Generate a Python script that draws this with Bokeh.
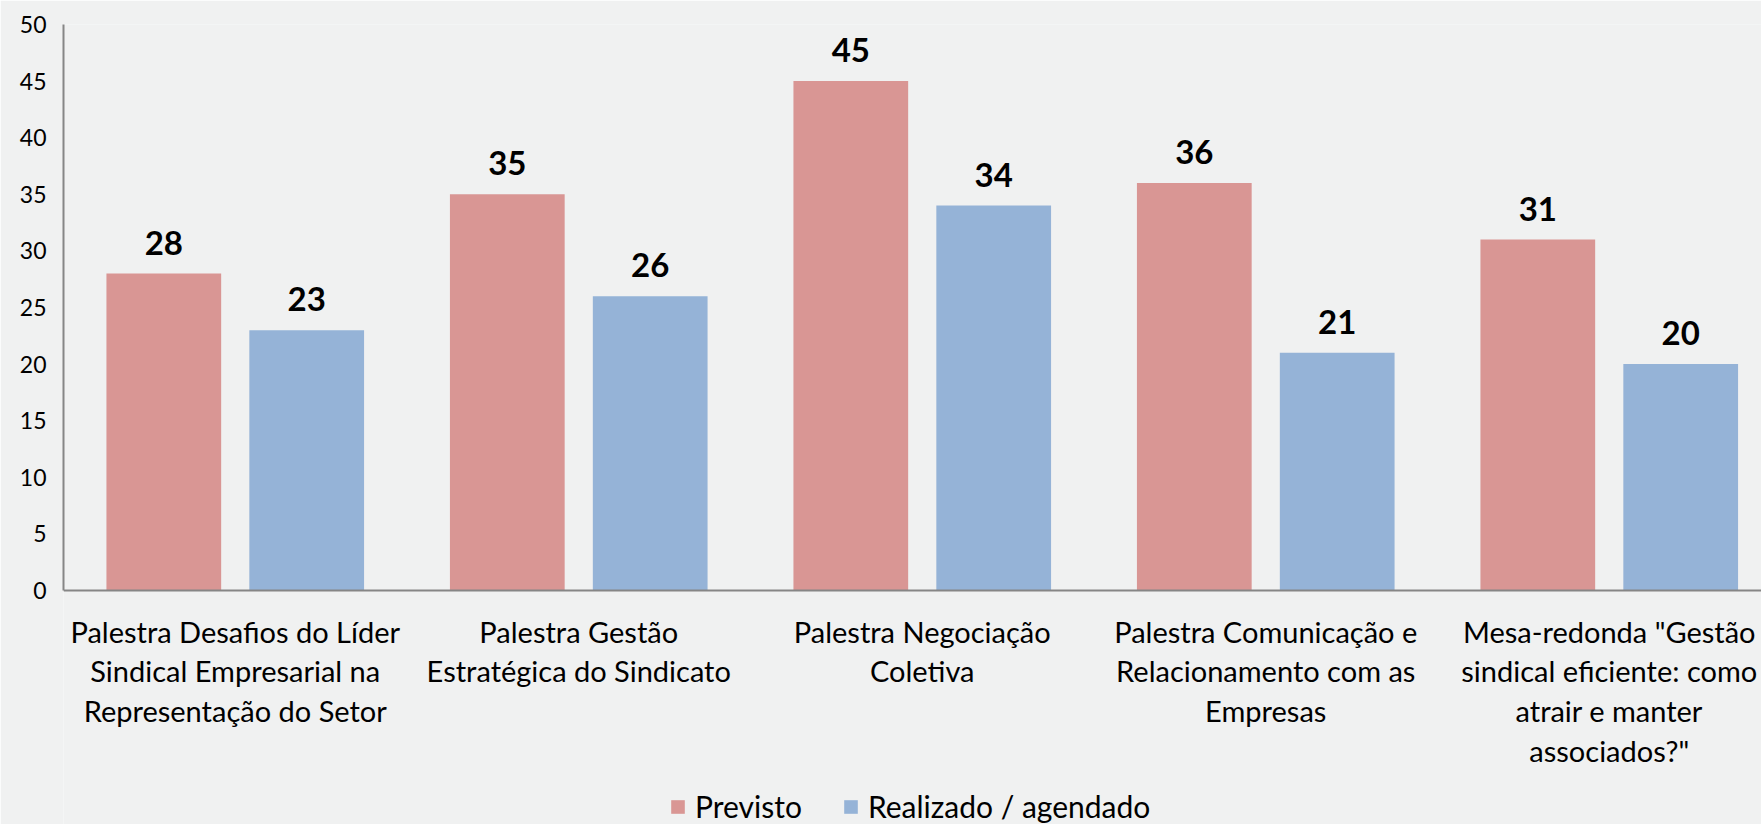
from bokeh.plotting import figure
from bokeh.models import Range1d, FixedTicker, ColumnDataSource, Legend, LegendItem, Span
from bokeh.transform import dodge
from bokeh.core.properties import value
from bokeh.embed import file_html
from bokeh.resources import INLINE

categories = [
    "Palestra Desafios do Líder\nSindical Empresarial na\nRepresentação do Setor",
    "Palestra Gestão\nEstratégica do Sindicato",
    "Palestra Negociação\nColetiva",
    "Palestra Comunicação e\nRelacionamento com as\nEmpresas",
    "Mesa-redonda \"Gestão\nsindical eficiente: como\natrair e manter\nassociados?\"",
]
previsto = [28, 35, 45, 36, 31]
realizado = [23, 26, 34, 21, 20]
y_ticks = [0, 5, 10, 15, 20, 25, 30, 35, 40, 45, 50]
series_names = ["Previsto", "Realizado / agendado"]
colors = ["#D99694", "#95B3D7"]

FONT = "Lato"
BG = "#f0f1f1"
AXIS = "#868686"

# layout constants (pixels)
FRAME_W, FRAME_H = 1698, 800      # frame extends below the value axis to hold labels and legend
PX_PER_50 = 566                   # pixel height of the 0..50 value span
CAT_W = 343.5                     # pixel width of one category

pos = list(range(1, len(categories) + 1))
src = ColumnDataSource(dict(
    x=pos,
    cat=categories,
    previsto=previsto,
    realizado=realizado,
    lp=[str(v) for v in previsto],
    lr=[str(v) for v in realizado],
))

p = figure(
    frame_width=FRAME_W, frame_height=FRAME_H,
    x_range=Range1d(0.5, 0.5 + FRAME_W / CAT_W),
    y_range=Range1d(50 - FRAME_H * 50 / PX_PER_50, 50),
    x_axis_location=None,
    output_backend="svg", toolbar_location=None,
    min_border_left=63, min_border_right=0, min_border_top=24, min_border_bottom=0,
)
p.background_fill_color = BG
p.border_fill_color = BG
p.outline_line_color = None
p.xgrid.visible = False
p.ygrid.visible = False

OFF = 0.208
W = 0.334
r1 = p.vbar(x=dodge("x", -OFF, range=p.x_range), top="previsto", width=W, source=src,
            fill_color=colors[0], line_color=None)
r2 = p.vbar(x=dodge("x", OFF, range=p.x_range), top="realizado", width=W, source=src,
            fill_color=colors[1], line_color=None)

# category axis line
p.add_layout(Span(location=0, dimension="width", line_color=AXIS, line_width=2))

# value labels
for col, lab, off in (("previsto", "lp", -OFF), ("realizado", "lr", OFF)):
    p.text(x=dodge("x", off, range=p.x_range), y=col, text=lab, source=src,
           text_font=value(FONT), text_font_style="bold", text_font_size="33px",
           text_color="#000000", text_align="center", text_baseline="alphabetic",
           y_offset=-31)

# category labels (under the axis line)
p.text(x="x", y=0, text="cat", source=src,
       text_font=value(FONT), text_font_size="29px", text_color="#000000",
       text_align="center", text_baseline="top", text_line_height=1.14,
       y_offset=23)

# y axis
ya = p.yaxis[0]
ya.ticker = FixedTicker(ticks=y_ticks)
ya.bounds = (0, 50)
ya.major_tick_line_color = None
ya.minor_tick_line_color = None
ya.major_tick_out = 0
ya.major_tick_in = 0
ya.axis_line_color = AXIS
ya.axis_line_width = 2
ya.major_label_text_font = FONT
ya.major_label_text_font_size = "23px"
ya.major_label_text_color = "#000000"
ya.major_label_standoff = 17

legend = Legend(
    items=[LegendItem(label=series_names[0], renderers=[r1]),
           LegendItem(label=series_names[1], renderers=[r2])],
    orientation="horizontal", location=(606, 0),
    background_fill_alpha=0, border_line_color=None,
    label_text_font=FONT, label_text_font_size="30px", label_text_color="#000000",
    glyph_width=17, glyph_height=17, label_standoff=9, spacing=40,
    padding=0, margin=0,
)
p.add_layout(legend, "center")

open("out.html", "w").write(file_html(p, INLINE))
